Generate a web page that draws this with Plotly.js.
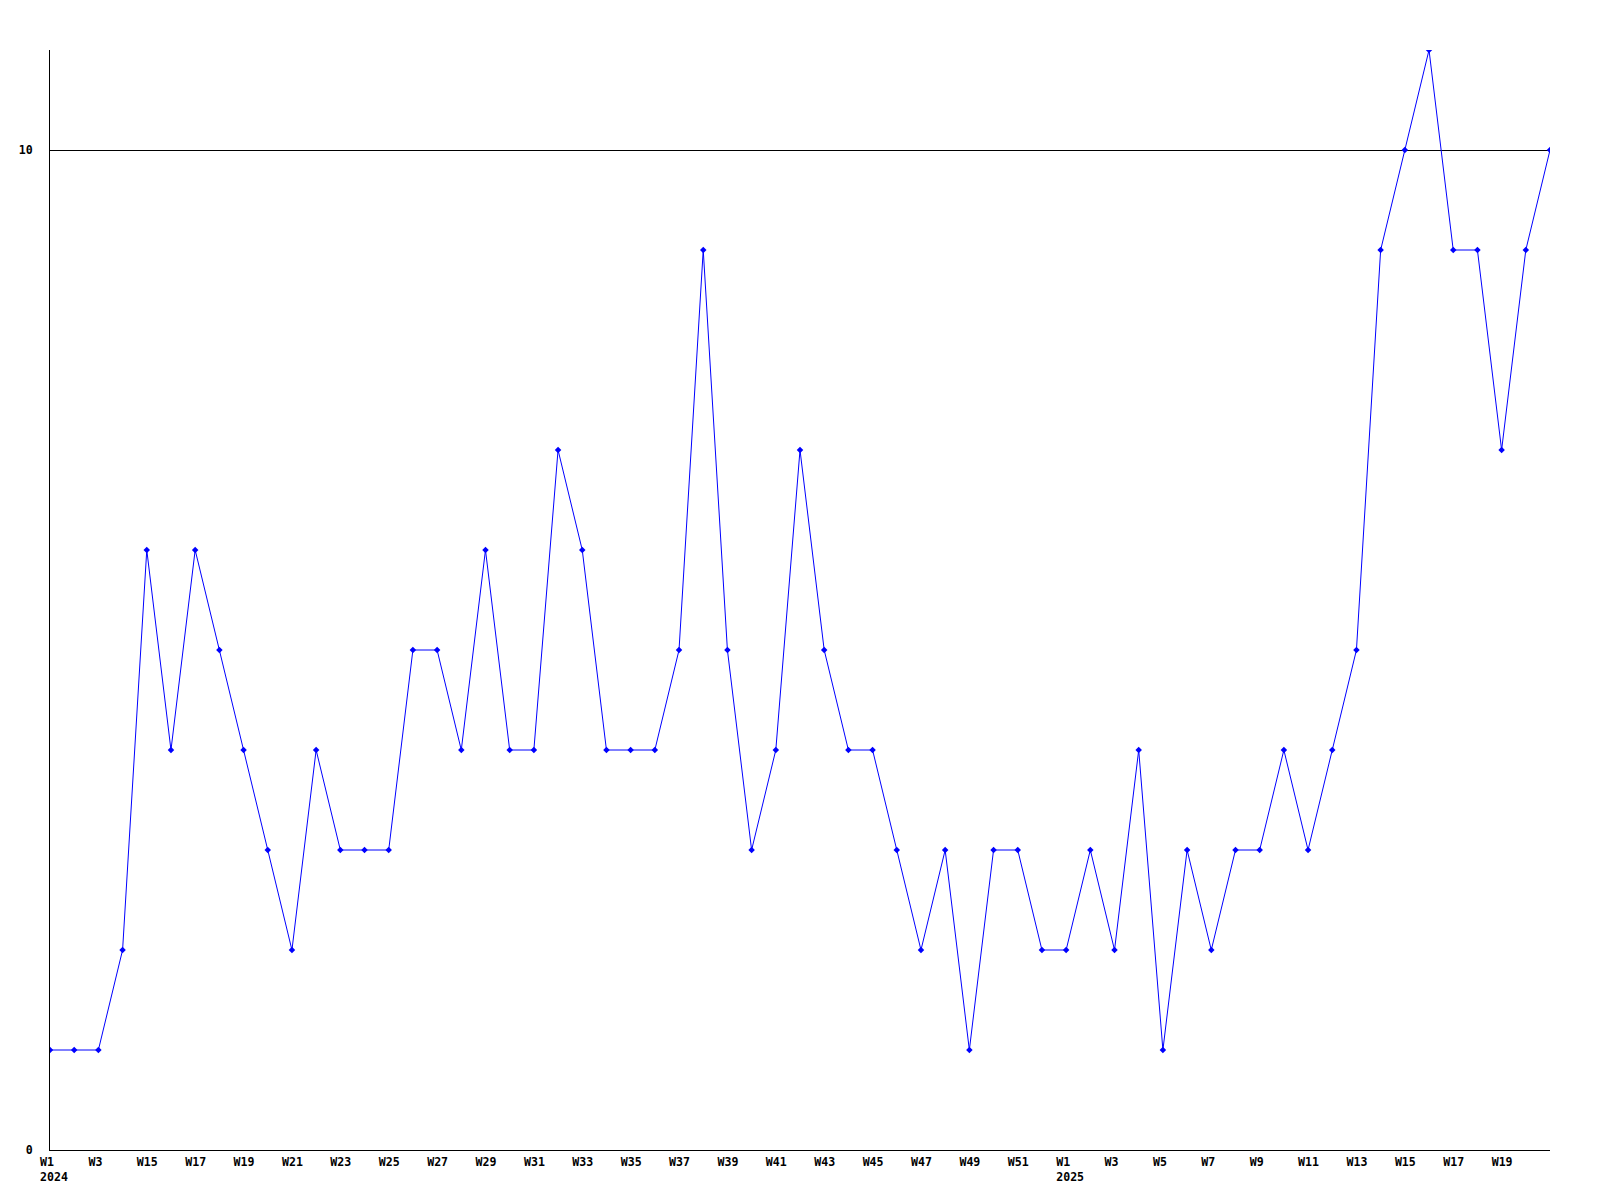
<!DOCTYPE html>
<html>
<head>
<meta charset="utf-8">
<script src="https://cdn.plot.ly/plotly-3.0.1.min.js"></script>
<style>
  html, body { margin: 0; padding: 0; background: #fff; }
  #chart { width: 1600px; height: 1200px; }
</style>
</head>
<body>
<div id="chart"></div>
<script>
// Week categories (year, week) in order
const years = [
  2024,2024,2024,2024,2024,2024,2024,2024,2024,2024,2024,2024,2024,2024,2024,2024,2024,2024,2024,2024,2024,
  2024,2024,2024,2024,2024,2024,2024,2024,2024,2024,2024,2024,2024,2024,2024,2024,2024,2024,2024,2024,2024,
  2025,2025,2025,2025,2025,2025,2025,2025,2025,2025,2025,2025,2025,2025,2025,2025,2025,2025,2025,2025,2025
];
const weeks = [
  1,2,3,14,15,16,17,18,19,20,21,22,23,24,25,26,27,28,29,30,31,
  32,33,34,35,36,37,38,39,40,41,42,43,44,45,46,47,48,49,50,51,52,
  1,2,3,4,5,6,7,8,9,10,11,12,13,14,15,16,17,18,19,20,21
];
const values = [
  1,1,1,2,6,4,6,5,4,3,2,4,3,3,3,5,5,4,6,4,4,
  7,6,4,4,4,5,9,5,3,4,7,5,4,4,3,2,3,1,3,3,2,
  2,3,2,4,1,3,2,3,3,4,3,4,5,9,10,11,9,9,7,9,10
];
const yTickVals = [0, 10];
const yTickText = ['\u00A00', '10'];

const NB = '\u00A0';
const cats = years.map((y, i) => y + '-W' + weeks[i]);

// every other category gets a label (not the final one); first week of each year also shows the year
const tickVals = [];
const tickText = [];
cats.forEach((c, i) => {
  if (i % 2 === 0 && i < cats.length - 1) {
    let lab = 'W' + weeks[i];
    while (lab.length < 4) lab += NB;
    const firstOfYear = (i === 0) || (years[i] !== years[i - 1]);
    if (firstOfYear) lab += '<br>' + years[i];
    tickVals.push(c);
    tickText.push(lab);
  }
});

const font = { family: 'DejaVu Sans Mono, monospace', size: 11.6, color: '#000', weight: 'bold' };

const trace = {
  type: 'scatter',
  mode: 'lines+markers',
  x: cats,
  y: values,
  line: { color: '#0000ff', width: 1 },
  marker: { color: '#0000ff', symbol: 'diamond', size: 5, line: { width: 0 } },
  hoverinfo: 'x+y'
};

const layout = {
  width: 1600,
  height: 1200,
  margin: { l: 50, r: 50, t: 50, b: 50, pad: 0 },
  paper_bgcolor: '#fff',
  plot_bgcolor: '#fff',
  showlegend: false,
  font: font,
  xaxis: {
    type: 'category',
    categoryorder: 'array',
    categoryarray: cats,
    range: [0, cats.length - 1],
    tickmode: 'array',
    tickvals: tickVals,
    ticktext: tickText,
    ticks: '',
    showgrid: false,
    zeroline: false,
    showline: true,
    linecolor: '#000',
    linewidth: 1,
    tickfont: font,
    ticklabelshift: 4,
    ticklabelstandoff: 1
  },
  yaxis: {
    range: [0, 11],
    tickmode: 'array',
    tickvals: yTickVals,
    ticktext: yTickText,
    ticks: '',
    showgrid: true,
    gridcolor: '#000',
    gridwidth: 1,
    zeroline: false,
    showline: true,
    linecolor: '#000',
    linewidth: 1,
    tickfont: font,
    ticklabelstandoff: 14
  }
};

Plotly.newPlot('chart', [trace], layout, { displayModeBar: false, staticPlot: true });
</script>
</body>
</html>
